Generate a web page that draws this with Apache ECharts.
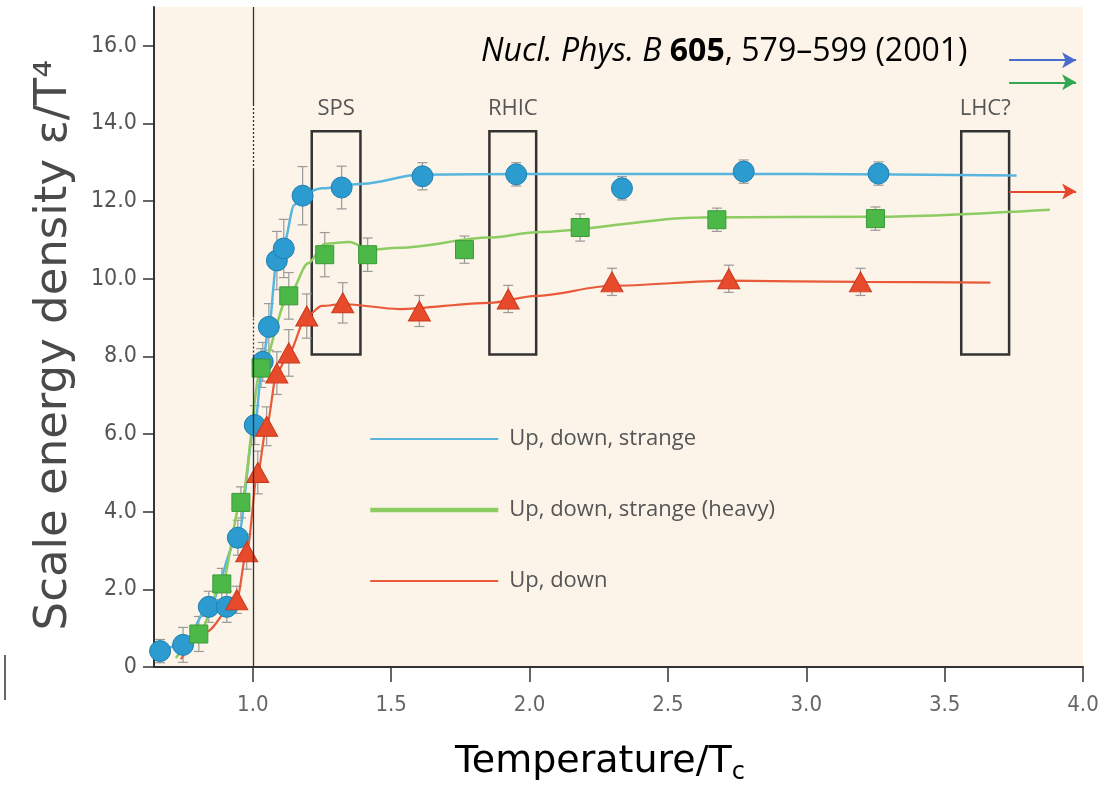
<!DOCTYPE html>
<html>
<head>
<meta charset="utf-8">
<script src="https://cdn.jsdelivr.net/npm/echarts@6/dist/echarts.min.js"></script>
<style>
  html, body { margin: 0; padding: 0; background: #fff; }
  #main { width: 1110px; height: 801px; }
</style>
</head>
<body>
<div id="main"></div>
<script>
// lattice points: up, down, strange
var tempBlue = [0.665, 0.748, 0.841, 0.906, 0.946, 1.007, 1.036, 1.058, 1.087, 1.112, 1.180, 1.321, 1.613, 1.952, 2.334, 2.774, 3.261];
var epsBlue  = [0.41, 0.57, 1.55, 1.55, 3.33, 6.23, 7.86, 8.76, 10.47, 10.78, 12.14, 12.35, 12.64, 12.69, 12.33, 12.76, 12.71];
var errBlue  = [0.3, 0.45, 0.4, 0.4, 0.45, 0.5, 0.5, 0.6, 0.75, 0.75, 0.75, 0.55, 0.35, 0.3, 0.3, 0.3, 0.3];

// up, down, strange (heavy)
var tempGreen = [0.805, 0.888, 0.957, 1.030, 1.130, 1.260, 1.415, 1.765, 2.183, 2.677, 3.250];
var epsGreen  = [0.85, 2.14, 4.24, 7.7, 9.56, 10.62, 10.62, 10.75, 11.32, 11.52, 11.55];
var errGreen  = [0.45, 0.4, 0.4, 0.5, 0.6, 0.57, 0.43, 0.35, 0.35, 0.3, 0.3];

// up, down
var tempRed = [0.942, 0.978, 1.018, 1.050, 1.087, 1.130, 1.195, 1.325, 1.602, 1.923, 2.298, 2.720, 3.196];
var epsRed  = [1.73, 2.97, 5.01, 6.2, 7.57, 8.09, 9.04, 9.38, 9.17, 9.48, 9.92, 10.0, 9.92];
var errRed  = [0.35, 0.45, 0.55, 0.5, 0.55, 0.6, 0.57, 0.52, 0.4, 0.35, 0.35, 0.35, 0.35];

// fitted curves
var fitBlueT  = [0.665, 0.748, 0.841, 0.946, 1.007, 1.036, 1.058, 1.087, 1.112, 1.15, 1.18, 1.25, 1.4, 1.6, 2.0, 3.0, 3.76];
var fitBlueE  = [0.41, 0.57, 1.55, 3.33, 6.23, 7.86, 8.76, 10.47, 10.9, 11.9, 12.2, 12.33, 12.45, 12.68, 12.7, 12.7, 12.66];
var fitGreenT = [0.722, 0.805, 0.888, 0.957, 1.03, 1.13, 1.2, 1.26, 1.35, 1.42, 1.53, 1.855, 2.024, 2.61, 3.25, 3.88];
var fitGreenE = [0.23, 0.85, 2.14, 4.24, 7.7, 9.56, 10.4, 10.9, 10.95, 10.75, 10.8, 11.06, 11.2, 11.58, 11.6, 11.78];
var fitRedT   = [0.74, 0.83, 0.942, 0.978, 1.018, 1.05, 1.087, 1.13, 1.195, 1.25, 1.325, 1.53, 1.855, 2.024, 2.298, 2.72, 3.196, 3.665];
var fitRedE   = [0.2, 0.9, 1.73, 2.97, 5.01, 6.2, 7.57, 8.09, 9.04, 9.3, 9.35, 9.22, 9.38, 9.56, 9.82, 9.95, 9.92, 9.9];

// collider boxes
var colliderNames = ['SPS', 'RHIC', 'LHC?'];
var boxLeft  = [1.213, 1.855, 3.56];
var boxRight = [1.389, 2.024, 3.733];
var boxBottom = 8.05;
var boxTop = 13.8;

// arrows on the right (blue, green, red)
var arrowY = [15.63, 15.06, 12.25];
var arrowFrom = 3.733;
var arrowTo = 3.975;

var xTicks = [1.0, 1.5, 2.0, 2.5, 3.0, 3.5, 4.0];
var yTicks = [0, 2, 4, 6, 8, 10, 12, 14, 16];
var legendNames = ['Up, down, strange', 'Up, down, strange (heavy)', 'Up, down'];

var BLUE = '#2b9bd0', GREEN = '#4cb848', RED = '#e84a2c';
var numFont = "'Liberation Sans Narrow', 'DejaVu Sans Condensed', 'Liberation Sans', sans-serif";

function pairs(xs, ys) {
    var out = [];
    for (var i = 0; i < xs.length; i++) out.push([xs[i], ys[i]]);
    return out;
}
function errData(xs, ys, es) {
    var out = [];
    for (var i = 0; i < xs.length; i++) out.push([xs[i], ys[i] - es[i], ys[i] + es[i]]);
    return out;
}
function renderErr(params, api) {
    var lo = api.coord([api.value(0), api.value(1)]);
    var hi = api.coord([api.value(0), api.value(2)]);
    var w = 5;
    var st = { stroke: '#9a9a9a', lineWidth: 1.2 };
    return {
        type: 'group',
        children: [
            { type: 'line', shape: { x1: lo[0], y1: lo[1], x2: hi[0], y2: hi[1] }, style: st },
            { type: 'line', shape: { x1: lo[0] - w, y1: lo[1], x2: lo[0] + w, y2: lo[1] }, style: st },
            { type: 'line', shape: { x1: hi[0] - w, y1: hi[1], x2: hi[0] + w, y2: hi[1] }, style: st }
        ]
    };
}

var boxAreas = [];
for (var i = 0; i < colliderNames.length; i++) {
    boxAreas.push([
        { name: colliderNames[i], coord: [boxLeft[i], boxTop] },
        { coord: [boxRight[i], boxBottom] }
    ]);
}
var arrowColors = ['#4a6ccc', '#33a852', '#e8452a'];
var arrowLines = [];
for (var i = 0; i < arrowY.length; i++) {
    arrowLines.push([
        { coord: [arrowFrom, arrowY[i]], lineStyle: { color: arrowColors[i], width: 2, type: 'solid' } },
        { coord: [arrowTo, arrowY[i]] }
    ]);
}
// vertical line at T = Tc, partly dotted
var vline = [
    [{ coord: [1, 0], lineStyle: { color: '#333', width: 1.3, type: 'solid' } }, { coord: [1, 8.0] }],
    [{ coord: [1, 8.0], lineStyle: { color: '#333', width: 1.3, type: [2, 2] } }, { coord: [1, 9.0] }],
    [{ coord: [1, 9.0], lineStyle: { color: '#333', width: 1.3, type: 'solid' } }, { coord: [1, 12.8] }],
    [{ coord: [1, 12.8], lineStyle: { color: '#333', width: 1.3, type: [2, 2] } }, { coord: [1, 14.5] }],
    [{ coord: [1, 14.5], lineStyle: { color: '#333', width: 1.3, type: 'solid' } }, { coord: [1, 17] }]
];

var chart = echarts.init(document.getElementById('main'), null, { renderer: 'canvas' });

var option = {
    backgroundColor: '#ffffff',
    animation: false,
    grid: {
        left: 154, right: 27, top: 7, bottom: 134,
        show: true, backgroundColor: '#fcf4e8', borderWidth: 0
    },
    legend: {
        orient: 'vertical',
        left: 363, top: 423,
        itemWidth: 128, itemHeight: 20, itemGap: 49,
        selectedMode: false,
        itemStyle: { color: 'rgba(0,0,0,0)', borderWidth: 0, opacity: 0 },
        textStyle: { fontSize: 22, color: '#555', fontFamily: "'Open Sans', 'Noto Sans', sans-serif", padding: [0, 0, 0, 6] },
        data: [
            { name: legendNames[0] },
            { name: legendNames[1], lineStyle: { width: 4.5 } },
            { name: legendNames[2] }
        ]
    },
    xAxis: {
        type: 'value', min: 0.643, max: 4.0,
        axisLine: { show: true, onZero: false, lineStyle: { color: '#333', width: 2 } },
        axisTick: { show: true, length: 15, customValues: xTicks, lineStyle: { color: '#333', width: 1.5 } },
        axisLabel: {
            customValues: xTicks, margin: 27, fontSize: 22, color: '#666', fontFamily: numFont,
            formatter: function (v) { return v.toFixed(1); }
        },
        splitLine: { show: false }
    },
    yAxis: {
        type: 'value', min: 0, max: 17,
        axisLine: { show: true, lineStyle: { color: '#333', width: 2 } },
        axisTick: { show: true, length: 11, customValues: yTicks, lineStyle: { color: '#333', width: 1.5 } },
        axisLabel: {
            customValues: yTicks, margin: 17, fontSize: 23, color: '#555', fontFamily: numFont,
            formatter: function (v) { return v === 0 ? '0' : v.toFixed(1); }
        },
        splitLine: { show: false }
    },
    graphic: [
        {
            type: 'text', rotation: Math.PI / 2,
            x: 54, y: 345,
            style: {
                text: 'Scale energy density ε/T⁴',
                font: "45px 'DejaVu Sans', sans-serif", fill: '#4a4a4a',
                align: 'center', verticalAlign: 'middle'
            }
        },
        {
            type: 'text', left: 455, top: 743,
            style: {
                text: '{a|Temperature/T}{b|c}',
                rich: {
                    a: { fontSize: 38, fontFamily: "'DejaVu Sans', sans-serif", color: '#4a4a4a' },
                    b: { fontSize: 24, fontFamily: "'DejaVu Sans', sans-serif", color: '#4a4a4a', padding: [22, 0, 0, 0] }
                }
            }
        },
        {
            type: 'text', left: 481, top: 36,
            style: {
                text: '{i|Nucl. Phys. B }{b|605}{n|, 579–599 (2001)}',
                rich: {
                    i: { fontSize: 32, fontStyle: 'italic', fontFamily: "'Open Sans', sans-serif", color: '#1a1a1a' },
                    b: { fontSize: 32, fontWeight: 'bold', fontFamily: "'Open Sans', sans-serif", color: '#1a1a1a' },
                    n: { fontSize: 32, fontFamily: "'Open Sans', sans-serif", color: '#1a1a1a' }
                }
            }
        },
        {
            type: 'line', shape: { x1: 5, y1: 655, x2: 5, y2: 700 },
            style: { stroke: '#333', lineWidth: 1.5 }
        }
    ],
    series: [
        {
            name: legendNames[0], type: 'line', data: pairs(fitBlueT, fitBlueE),
            symbol: 'none', smooth: 0.3, smoothMonotone: 'x',
            lineStyle: { color: '#58b5de', width: 2.5 }, itemStyle: { color: '#58b5de' },
            markArea: {
                silent: true,
                itemStyle: { color: 'rgba(0,0,0,0)', borderColor: '#333', borderWidth: 2.5 },
                label: { show: true, position: 'top', distance: 10, fontSize: 22, color: '#555', fontFamily: "'Open Sans', sans-serif" },
                data: boxAreas
            },
            markLine: {
                silent: true, symbol: ['none', 'arrow'], symbolSize: [12, 14],
                label: { show: false },
                data: arrowLines
            }
        },
        {
            name: legendNames[1], type: 'line', data: pairs(fitGreenT, fitGreenE),
            symbol: 'none', smooth: 0.3, smoothMonotone: 'x',
            lineStyle: { color: '#8dcc62', width: 2.5 }, itemStyle: { color: '#8dcc62' }
        },
        {
            name: legendNames[2], type: 'line', data: pairs(fitRedT, fitRedE),
            symbol: 'none', smooth: 0.3, smoothMonotone: 'x',
            lineStyle: { color: '#e85a3a', width: 2.2 }, itemStyle: { color: '#ef8a70' },
            markLine: {
                silent: true, symbol: ['none', 'none'], label: { show: false },
                data: vline
            }
        },
        { name: 'errBlue', type: 'custom', renderItem: renderErr, data: errData(tempBlue, epsBlue, errBlue), z: 3 },
        { name: 'errGreen', type: 'custom', renderItem: renderErr, data: errData(tempGreen, epsGreen, errGreen), z: 3 },
        { name: 'errRed', type: 'custom', renderItem: renderErr, data: errData(tempRed, epsRed, errRed), z: 3 },
        {
            name: 'ptsBlue', type: 'scatter', data: pairs(tempBlue, epsBlue), z: 4,
            symbol: 'circle', symbolSize: 21,
            itemStyle: { color: BLUE, borderColor: '#1e7fb0', borderWidth: 1, opacity: 1 }
        },
        {
            name: 'ptsGreen', type: 'scatter', data: pairs(tempGreen, epsGreen), z: 4,
            symbol: 'rect', symbolSize: 18,
            itemStyle: { color: GREEN, borderColor: '#3a9a38', borderWidth: 1, opacity: 1 }
        },
        {
            name: 'ptsRed', type: 'scatter', data: pairs(tempRed, epsRed), z: 4,
            symbol: 'triangle', symbolSize: [22, 20],
            itemStyle: { color: RED, borderColor: '#c8381e', borderWidth: 1, opacity: 1 }
        }
    ]
};

chart.setOption(option);
</script>
</body>
</html>
